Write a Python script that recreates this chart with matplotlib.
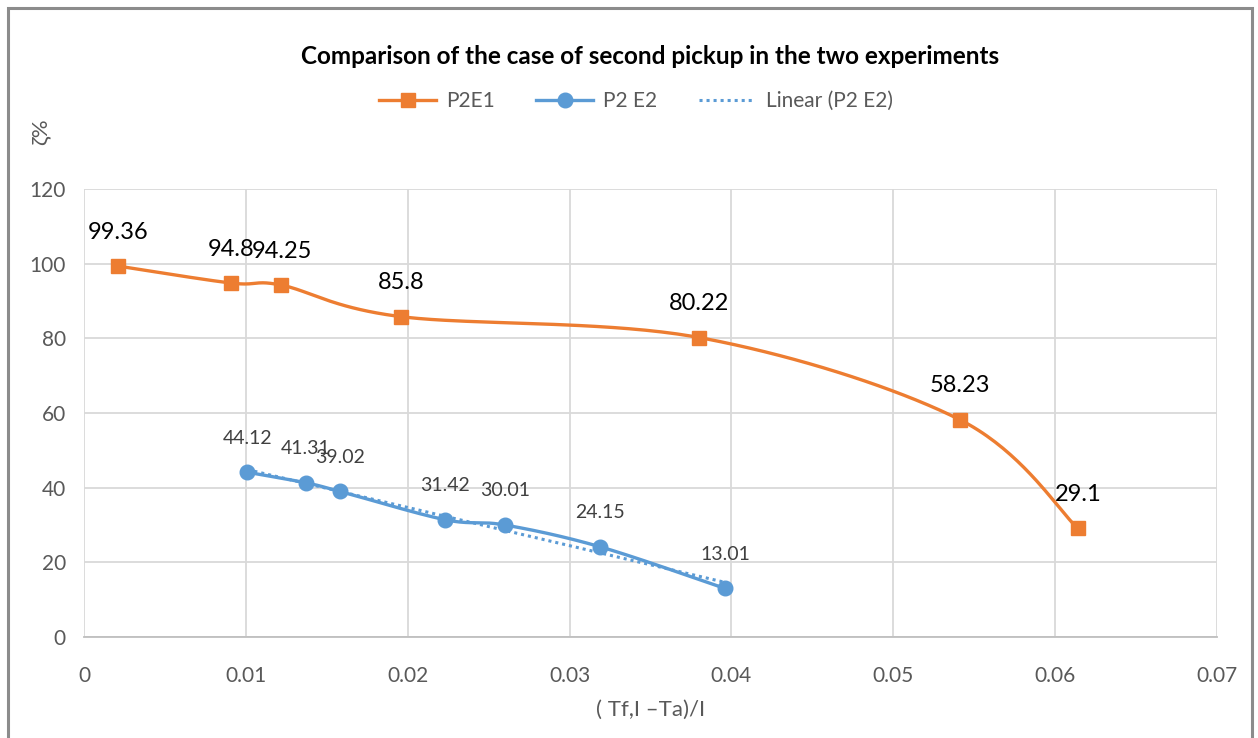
import numpy as np
import matplotlib
matplotlib.use("Agg")
import matplotlib.pyplot as plt
from matplotlib.patches import Rectangle
from matplotlib.lines import Line2D

plt.rcParams['font.family'] = ['Lato', 'DejaVu Sans']

# ---- data ----
x_e1 = [0.0021, 0.0091, 0.0122, 0.0196, 0.0380, 0.0541, 0.0614]
y_e1 = [99.36, 94.8, 94.25, 85.8, 80.22, 58.23, 29.1]
x_e2 = [0.0101, 0.0137, 0.0158, 0.0223, 0.0260, 0.0319, 0.0396]
y_e2 = [44.12, 41.31, 39.02, 31.42, 30.01, 24.15, 13.01]
label_e1 = "P2E1"
label_e2 = "P2 E2"
label_trend = "Linear (P2 E2)"
title = "Comparison of the case of second pickup in the two experiments"
xlabel = "( Tf,I \u2013Ta)/I"
ylabel = "\u03b6%"
xticks = [0, 0.01, 0.02, 0.03, 0.04, 0.05, 0.06, 0.07]
xtick_labels = ["0", "0.01", "0.02", "0.03", "0.04", "0.05", "0.06", "0.07"]
yticks = [0, 20, 40, 60, 80, 100, 120]

ORANGE = "#ed7d31"
BLUE = "#5b9bd5"
GRID = "#d9d9d9"
TXT = "#595959"

W, H = 1258, 738
fig = plt.figure(figsize=(W / 100, H / 100), dpi=100)
ax = fig.add_axes([84 / W, 1 - 637 / H, (1217 - 84) / W, (637 - 189) / H])
ax.set_xlim(0, 0.07)
ax.set_ylim(0, 120)

sx = 1133 / 0.07
sy = 448 / 120


def smooth(xs, ys, n=40):
    """Catmull-Rom style Bezier smoothing in pixel-proportional space."""
    P = np.column_stack([np.asarray(xs) * sx, np.asarray(ys) * sy])
    out = [P[0]]
    m = len(P)
    for i in range(m - 1):
        p0 = P[i - 1] if i > 0 else P[i]
        p1 = P[i]
        p2 = P[i + 1]
        p3 = P[i + 2] if i + 2 < m else P[i + 1]
        c1 = p1 + (p2 - p0) / 6
        c2 = p2 - (p3 - p1) / 6
        t = np.linspace(0, 1, n)[1:, None]
        seg = ((1 - t) ** 3) * p1 + 3 * ((1 - t) ** 2) * t * c1 + 3 * (1 - t) * t ** 2 * c2 + t ** 3 * p2
        out.extend(seg)
    out = np.array(out)
    return out[:, 0] / sx, out[:, 1] / sy


# gridlines
ax.set_xticks(xticks)
ax.set_xticklabels(xtick_labels)
ax.set_yticks(yticks)
ax.grid(True, color=GRID, linewidth=1.3)
ax.set_axisbelow(True)
for s in ["top", "right", "left"]:
    ax.spines[s].set_visible(False)
ax.spines["bottom"].set_color("#bfbfbf")
ax.spines["bottom"].set_linewidth(1.3)
ax.tick_params(length=0, colors=TXT, labelsize=15)
ax.tick_params(axis="x", pad=21)
ax.tick_params(axis="y", pad=13)

# series
sxe1, sye1 = smooth(x_e1, y_e1)
ax.plot(sxe1, sye1, color=ORANGE, lw=2.4, zorder=3)
ax.plot(x_e1, y_e1, ls="none", marker="s", ms=10, color=ORANGE, zorder=4)

sxe2, sye2 = smooth(x_e2, y_e2)
ax.plot(sxe2, sye2, color=BLUE, lw=2.4, zorder=3)
ax.plot(x_e2, y_e2, ls="none", marker="o", ms=10.5, color=BLUE, zorder=4)

coef = np.polyfit(x_e2, y_e2, 1)
tx = np.array([min(x_e2), max(x_e2)])
ax.plot(tx, np.polyval(coef, tx), color=BLUE, lw=2.2, ls=(0, (1, 1.3)), zorder=2)

# data labels
for x, y in zip(x_e1, y_e1):
    ax.annotate(f"{y:g}", (x, y), xytext=(0, 24.5), textcoords="offset points",
                ha="center", va="center", fontsize=17, color="black", zorder=5)
for x, y in zip(x_e2, y_e2):
    ax.annotate(f"{y:g}", (x, y), xytext=(0, 24.5), textcoords="offset points",
                ha="center", va="center", fontsize=14, color="#404040", zorder=5)

ax.set_xlabel(xlabel, color=TXT, fontsize=16, labelpad=10)

fig.text(40 / W, 1 - 132 / H, ylabel, rotation=90, ha="center", va="center",
         color=TXT, fontsize=16)
fig.text(650 / W, 1 - 57 / H, title, ha="center", va="center",
         fontsize=17.5, fontweight="bold", color="black")

handles = [
    Line2D([], [], color=ORANGE, lw=2.4, marker="s", ms=10),
    Line2D([], [], color=BLUE, lw=2.4, marker="o", ms=10.5),
    Line2D([], [], color=BLUE, lw=2.2, ls=(0, (1, 1.3))),
]
leg = fig.legend(handles, [label_e1, label_e2, label_trend], ncol=3,
                 loc="center", bbox_to_anchor=(636 / W, 1 - 101 / H),
                 frameon=False, fontsize=15, handlelength=2.7,
                 columnspacing=2.0, handletextpad=0.5)
for t in leg.get_texts():
    t.set_color(TXT)

# outer chart border
fig.patches.append(Rectangle((8 / W, -0.05), (1252 - 8) / W, 1 - 8 / H + 0.05,
                             transform=fig.transFigure, fill=False,
                             edgecolor="#8c8c8c", linewidth=2.2))

fig.savefig("out.png", dpi=100, facecolor="white")
